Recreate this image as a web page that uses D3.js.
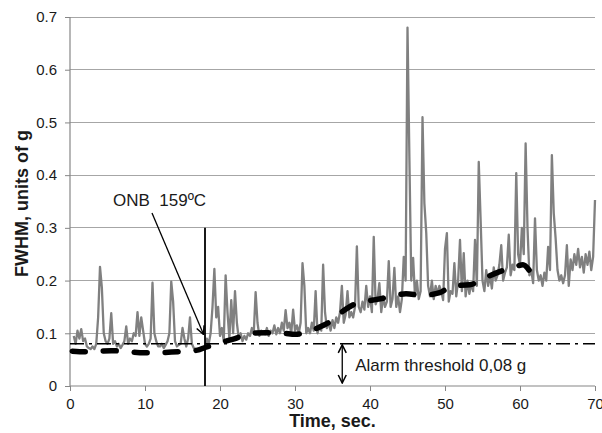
<!DOCTYPE html>
<html>
<head>
<meta charset="utf-8">
<script src="https://cdn.jsdelivr.net/npm/d3@7"></script>
<style>
  html, body { margin: 0; padding: 0; background: #fff; }
  svg { display: block; font-family: "Liberation Sans", Arial, sans-serif; }
</style>
</head>
<body>
<svg id="chart" width="602" height="433"></svg>
<script>
// ---- data ----
const xTicks = [0, 10, 20, 30, 40, 50, 60, 70];
const yTicks = [0, 0.1, 0.2, 0.3, 0.4, 0.5, 0.6, 0.7];
const xLabel = "Time, sec.";
const yLabel = "FWHM, units of g";

// raw FWHM signal sampled every 0.25 s starting at t = 0.5 s
const signalStart = 0.5;
const signalStep = 0.25;
const signalValues = [
  0.095, 0.08,
  0.105, 0.09, 0.108, 0.085,
  0.09, 0.075, 0.072, 0.07,
  0.075, 0.07, 0.08, 0.13,
  0.226, 0.186, 0.10, 0.085,
  0.08, 0.09, 0.138, 0.08,
  0.085, 0.075, 0.08, 0.072,
  0.078, 0.085, 0.113, 0.08,
  0.09, 0.085, 0.10, 0.095,
  0.14, 0.095, 0.13, 0.105,
  0.08, 0.075, 0.08, 0.09,
  0.196, 0.10, 0.085, 0.075,
  0.075, 0.08, 0.072, 0.078,
  0.085, 0.10, 0.198, 0.16,
  0.085, 0.075, 0.078, 0.08,
  0.11, 0.09, 0.075, 0.09,
  0.13, 0.08, 0.072, 0.07,
  0.068, 0.07, 0.072, 0.07,
  0.075, 0.09, 0.08, 0.10,
  0.15, 0.222, 0.13, 0.15,
  0.095, 0.11, 0.085, 0.21,
  0.14, 0.09, 0.163, 0.10,
  0.18, 0.12, 0.09, 0.10,
  0.085, 0.095, 0.088, 0.10,
  0.095, 0.11, 0.10, 0.178,
  0.12, 0.095, 0.105, 0.10,
  0.098, 0.11, 0.095, 0.105,
  0.10, 0.115, 0.098, 0.11,
  0.10, 0.12, 0.105, 0.144,
  0.11, 0.12, 0.10, 0.145,
  0.105, 0.115, 0.10, 0.12,
  0.233, 0.19, 0.10, 0.11,
  0.10, 0.12, 0.105, 0.18,
  0.10, 0.115, 0.105, 0.23,
  0.14, 0.11, 0.12, 0.105,
  0.125, 0.11, 0.13, 0.12,
  0.14, 0.19, 0.12, 0.135,
  0.18, 0.13, 0.14, 0.13,
  0.15, 0.265, 0.15, 0.14,
  0.16, 0.145, 0.19, 0.15,
  0.17, 0.14, 0.283, 0.155,
  0.165, 0.195, 0.14, 0.17,
  0.15, 0.16, 0.237, 0.15,
  0.165, 0.224, 0.15, 0.17,
  0.14, 0.165, 0.245, 0.20,
  0.68, 0.435, 0.20, 0.243,
  0.17, 0.20, 0.165, 0.18,
  0.51, 0.347, 0.29, 0.19,
  0.17, 0.20, 0.165, 0.19,
  0.175, 0.19, 0.18, 0.163,
  0.26, 0.29, 0.16, 0.18,
  0.175, 0.233, 0.17, 0.20,
  0.277, 0.18, 0.252, 0.17,
  0.20, 0.175, 0.195, 0.18,
  0.277, 0.19, 0.425, 0.315,
  0.20, 0.18, 0.22, 0.19,
  0.21, 0.185, 0.225, 0.20,
  0.21, 0.23, 0.267, 0.20,
  0.215, 0.225, 0.287, 0.21,
  0.23, 0.22, 0.404, 0.25,
  0.23, 0.30, 0.25, 0.46,
  0.30, 0.21, 0.22, 0.195,
  0.318, 0.22, 0.20, 0.21,
  0.19, 0.215, 0.20, 0.264,
  0.22, 0.438, 0.328, 0.28,
  0.22, 0.20, 0.21, 0.195,
  0.21, 0.267, 0.19, 0.24,
  0.22, 0.25, 0.23, 0.26,
  0.225, 0.245, 0.215, 0.25,
  0.23, 0.255, 0.22, 0.245,
  0.353
];

// smoothed trend (black dashed)
const trendTimes = [0.3, 2, 5.5, 10, 14.5, 17, 18, 20, 22, 24, 26, 28.5, 30, 31.5, 33, 34.7, 36.7, 38.4, 40.4, 42.7, 44.8, 47, 49.3, 51, 53.3, 55.3, 57.3, 59.3, 60.4, 61.2];
const trendValues = [0.066, 0.065, 0.067, 0.063, 0.065, 0.068, 0.073, 0.082, 0.09, 0.1, 0.101, 0.1, 0.098, 0.102, 0.11, 0.122, 0.145, 0.158, 0.163, 0.169, 0.175, 0.172, 0.177, 0.19, 0.192, 0.205, 0.217, 0.226, 0.23, 0.22];

const alarmThreshold = 0.08;
const onbTime = 18;
const onbLabel = "ONB  159ºC";
const alarmLabel = "Alarm threshold 0,08 g";

// ---- layout ----
const W = 602, H = 433;
const margin = { left: 70, right: 7, top: 17, bottom: 47 };
const svg = d3.select("#chart");

const x = d3.scaleLinear().domain([0, 70]).range([margin.left, W - margin.right]);
const y = d3.scaleLinear().domain([0, 0.7]).range([H - margin.bottom, margin.top]);

const gridColor = "#a6a6a6";
const axisColor = "#868686";
const textColor = "#1a1a1a";

// gridlines
svg.append("g")
  .selectAll("line")
  .data(yTicks.filter(d => d > 0))
  .join("line")
  .attr("x1", x(0)).attr("x2", x(70))
  .attr("y1", d => y(d)).attr("y2", d => y(d))
  .attr("stroke", gridColor).attr("stroke-width", 1)
  .attr("shape-rendering", "crispEdges");

// axes
const yAxis = svg.append("g")
  .attr("transform", `translate(${x(0)},0)`)
  .call(d3.axisLeft(y).tickValues(yTicks).tickSize(5).tickPadding(8)
    .tickFormat(d => d === 0 ? "0" : d3.format(".1f")(d)));
const xAxis = svg.append("g")
  .attr("transform", `translate(0,${y(0)})`)
  .call(d3.axisBottom(x).tickValues(xTicks).tickSize(5).tickPadding(7)
    .tickFormat(d3.format("d")));
[yAxis, xAxis].forEach(g => {
  g.select(".domain").attr("stroke", axisColor).attr("stroke-width", 1.2);
  g.selectAll(".tick line").attr("stroke", axisColor).attr("stroke-width", 1);
  g.selectAll(".tick text").attr("fill", textColor)
    .style("font-size", "15px").style("font-family", "'Liberation Sans', Arial, sans-serif");
});
yAxis.select(".domain").attr("d", `M0,${y(0.7)}V${y(0)}`);
xAxis.select(".domain").attr("d", `M${x(0)},0H${x(70)}`);

// signal
const signal = signalValues.map((v, i) => [signalStart + i * signalStep, v]);
svg.append("path")
  .datum(signal)
  .attr("fill", "none")
  .attr("stroke", "#808080")
  .attr("stroke-width", 2.3)
  .attr("stroke-linejoin", "round")
  .attr("d", d3.line().x(d => x(d[0])).y(d => y(d[1])));

// trend
const trend = trendTimes.map((t, i) => [t, trendValues[i]]);
svg.append("path")
  .datum(trend)
  .attr("fill", "none")
  .attr("stroke", "#000")
  .attr("stroke-width", 5.5)
  .attr("stroke-linecap", "round")
  .attr("stroke-dasharray", "13,18")
  .attr("d", d3.line().curve(d3.curveMonotoneX).x(d => x(d[0])).y(d => y(d[1])));

// alarm threshold
svg.append("line")
  .attr("x1", x(0)).attr("x2", x(70))
  .attr("y1", y(alarmThreshold)).attr("y2", y(alarmThreshold))
  .attr("stroke", "#000").attr("stroke-width", 1.5)
  .attr("stroke-dasharray", "14,5,3,5");

// ONB vertical line
svg.append("line")
  .attr("x1", x(onbTime)).attr("x2", x(onbTime))
  .attr("y1", y(0.3)).attr("y2", y(0))
  .attr("stroke", "#000").attr("stroke-width", 1.8);

// arrow markers
const defs = svg.append("defs");
defs.append("marker")
  .attr("id", "vhead")
  .attr("viewBox", "0 0 10 10")
  .attr("refX", 9).attr("refY", 5)
  .attr("markerWidth", 10).attr("markerHeight", 10)
  .attr("markerUnits", "userSpaceOnUse")
  .attr("orient", "auto-start-reverse")
  .append("path")
  .attr("d", "M1,1 L9,5 L1,9")
  .attr("fill", "none").attr("stroke", "#000").attr("stroke-width", 1.5);

// ONB annotation
svg.append("text")
  .attr("x", 113).attr("y", 206)
  .attr("fill", textColor)
  .style("font-size", "17px")
  .style("white-space", "pre")
  .text(onbLabel);
svg.append("line")
  .attr("x1", 152).attr("y1", 213)
  .attr("x2", x(17.8)).attr("y2", y(0.098))
  .attr("stroke", "#000").attr("stroke-width", 1.3)
  .attr("marker-end", "url(#vhead)");

// alarm double arrow + label
const arrowX = x(36.3);
svg.append("line")
  .attr("x1", arrowX).attr("x2", arrowX)
  .attr("y1", y(alarmThreshold) + 1).attr("y2", y(0) - 3)
  .attr("stroke", "#000").attr("stroke-width", 1.3)
  .attr("marker-start", "url(#vhead)")
  .attr("marker-end", "url(#vhead)");
svg.append("text")
  .attr("x", arrowX + 13).attr("y", 371)
  .attr("fill", textColor)
  .style("font-size", "17px")
  .text(alarmLabel);

// axis titles
svg.append("text")
  .attr("x", (x(0) + x(70)) / 2).attr("y", 427)
  .attr("text-anchor", "middle")
  .attr("fill", textColor)
  .style("font-size", "18px").style("font-weight", "bold")
  .text(xLabel);
svg.append("text")
  .attr("transform", `translate(28,${(y(0) + y(0.7)) / 2 + 2}) rotate(-90)`)
  .attr("text-anchor", "middle")
  .attr("fill", textColor)
  .style("font-size", "18px").style("font-weight", "bold")
  .text(yLabel);
</script>
</body>
</html>
